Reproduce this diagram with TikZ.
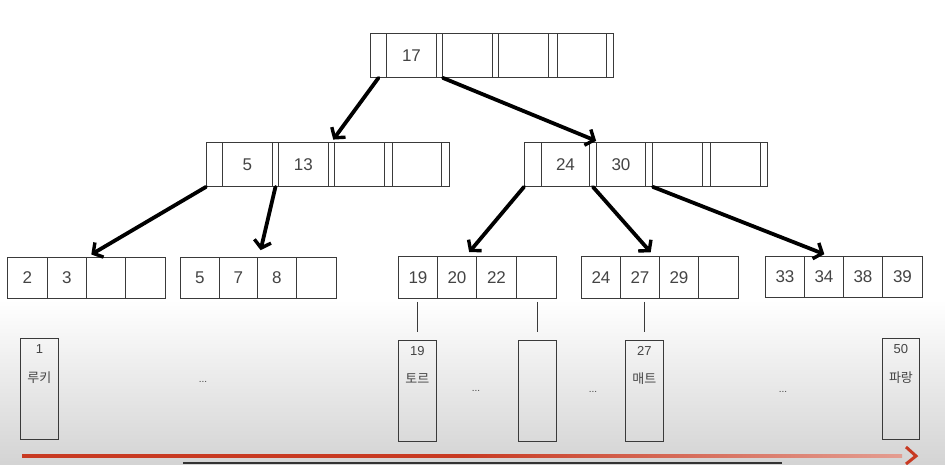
\documentclass[tikz,border=0pt]{standalone}
\usepackage{fontspec}
\setmainfont{Liberation Sans}
\newfontfamily\krfont{Noto Sans CJK KR}
\usetikzlibrary{arrows.meta,calc}
\definecolor{boxline}{HTML}{3A3A3A}
\definecolor{txt}{HTML}{444444}
\definecolor{redline}{HTML}{C83A22}
\tikzset{
  cell/.style={draw=boxline, line width=0.9pt, inner sep=0pt, anchor=north west,
    text=txt, font=\fontsize{17}{19}\selectfont},
  tarr/.style={line width=3.8pt, line cap=round, -{Straight Barb[length=7pt,width=17pt,line width=3.4pt]}},
  leafbox/.style={draw=boxline, line width=0.9pt, inner sep=0pt, anchor=north west,
    minimum height=101pt},
  small/.style={text=txt, font=\fontsize{13}{15}\selectfont},
  krsmall/.style={text=txt, font=\krfont\fontsize{13}{15}\selectfont},
  dots/.style={text=txt, font=\fontsize{10}{12}\selectfont},
  vlink/.style={draw=boxline, line width=0.9pt},
}
\begin{document}
\begin{tikzpicture}[x=1pt,y=-1pt]
\useasboundingbox (0,0) rectangle (945,464);
\fill[white] (0,0) rectangle (945,300);
\shade[top color=white, bottom color=black!17] (0,300) rectangle (945,464);

% internal nodes
\foreach \a/\b/\t [count=\i] in {370/386/,386/436/17,436/442/,442/492/,492/498/,498/548/,548/557/,557/606/,606/613/}
  \node[cell, minimum width={(\b-\a)*1pt}, minimum height=44pt] (r\i) at (\a,33) {\t};
\foreach \a/\b/\t [count=\i] in {206/222/,222/272/5,272/278/,278/328/13,328/334/,334/384/,384/392/,392/441/,441/449/}
  \node[cell, minimum width={(\b-\a)*1pt}, minimum height=44pt] (m\i) at (\a,142) {\t};
\foreach \a/\b/\t [count=\i] in {524/541/,541/589/24,589/596/,596/645/30,645/652/,652/702/,702/710/,710/760/,760/767/}
  \node[cell, minimum width={(\b-\a)*1pt}, minimum height=44pt] (n\i) at (\a,142) {\t};

% leaves
\foreach \a/\b/\t [count=\i] in {7/47/2,47/86/3,86/125/,125/165/}
  \node[cell, minimum width={(\b-\a)*1pt}, minimum height=41pt] (la\i) at (\a,257) {\t};
\foreach \a/\b/\t [count=\i] in {180/219/5,219/257/7,257/296/8,296/336/}
  \node[cell, minimum width={(\b-\a)*1pt}, minimum height=41pt] (lb\i) at (\a,257) {\t};
\foreach \a/\b/\t [count=\i] in {398/437/19,437/476/20,476/516/22,516/556/}
  \node[cell, minimum width={(\b-\a)*1pt}, minimum height=42pt] (lc\i) at (\a,256) {\t};
\foreach \a/\b/\t [count=\i] in {581/620/24,620/659/27,659/698/29,698/738/}
  \node[cell, minimum width={(\b-\a)*1pt}, minimum height=42pt] (ld\i) at (\a,256) {\t};
\foreach \a/\b/\t [count=\i] in {765/804/33,804/843/34,843/882/38,882/922/39}
  \node[cell, minimum width={(\b-\a)*1pt}, minimum height=41pt] (le\i) at (\a,256) {\t};

% arrows
\draw[tarr, shorten >=3pt] (r1.south) -- (m5.north);
\draw[tarr, shorten >=3pt] (r3.south east) -- ([xshift=2pt]n3.north east);
\draw[tarr, shorten >=5pt] (m1.south west) -- ([xshift=1pt]la3.north west);
\draw[tarr, shorten >=7pt] (m3.south) -- ([xshift=2pt]lb3.north west);
\coordinate (t5) at ([xshift=9pt]lc2.north);
\draw[tarr, shorten >=5pt] (n1.south west) -- (t5);
\coordinate (t6) at ([xshift=-5pt]ld3.north west);
\draw[tarr, shorten >=5pt] (n3.south) -- (t6);
\coordinate (t7) at ([xshift=5pt]le2.north);
\draw[tarr, shorten >=5pt] (n5.south east) -- (t7);

% data boxes
\node[leafbox, minimum width=38pt] (d1) at (20,338) {};
\node[leafbox, minimum width=38pt] (d2) at (398,340) {};
\node[leafbox, minimum width=38pt] (d3) at (518,340) {};
\node[leafbox, minimum width=38pt] (d4) at (625,340) {};
\node[leafbox, minimum width=37pt] (d5) at (882,338) {};

\node[small] (d1n) at ([yshift=-11pt]d1.north) {1};
\node[krsmall] (d1k) at ([yshift=-40pt]d1.north) {루키};
\node[small] (d2n) at ([yshift=-11pt]d2.north) {19};
\node[krsmall] (d2k) at ([yshift=-39pt]d2.north) {토르};
\node[small] (d4n) at ([yshift=-11pt]d4.north) {27};
\node[krsmall] (d4k) at ([yshift=-39pt]d4.north) {매트};
\node[small] (d5n) at ([yshift=-11pt]d5.north) {50};
\node[krsmall] (d5k) at ([yshift=-40pt]d5.north) {파랑};

% links leaf -> data
\draw[vlink] ([yshift=-3pt]d2.north |- lc1.south) -- ([yshift=8pt]d2.north);
\draw[vlink] ([yshift=-3pt]d3.north |- lc4.south) -- ([yshift=8pt]d3.north);
\draw[vlink] ([yshift=-3pt]d4.north |- ld2.south) -- ([yshift=8pt]d4.north);

% ellipses
\node[dots] (e1) at (203,382) {...};
\node[dots] (e2) at (476,391) {...};
\node[dots] (e3) at (593,392) {...};
\node[dots] (e4) at (783,392) {...};

% red arrow
\shade[left color=redline, right color=redline!50, middle color=redline] (22,454.5) rectangle (902,457.5);
\draw[redline, line width=3pt, line join=miter] (906,447) -- (916,456) -- (906,464);

% bottom bar
\fill[black!80] (183,461.5) rectangle (782,464);
\end{tikzpicture}
\end{document}
